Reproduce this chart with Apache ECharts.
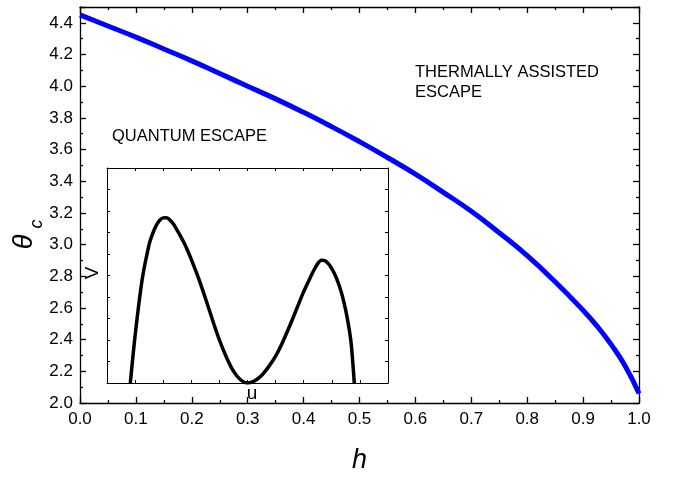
<!DOCTYPE html>
<html>
<head>
<meta charset="utf-8">
<script src="https://cdn.jsdelivr.net/npm/echarts@6/dist/echarts.min.js"></script>
<style>
  html, body { margin: 0; padding: 0; background: #fff; }
  #chart { width: 694px; height: 479px; }
</style>
</head>
<body>
<div id="chart"></div>
<script>
// main curve: critical theta vs h
var hValues = [0, 0.05, 0.1, 0.15, 0.2, 0.25, 0.3, 0.35, 0.4, 0.45, 0.5, 0.55, 0.6, 0.65, 0.7, 0.75, 0.8, 0.85, 0.9, 0.925, 0.95, 0.975, 1.0];
var thetaValues = [4.45, 4.38, 4.31, 4.235, 4.16, 4.08, 4.0, 3.92, 3.835, 3.745, 3.65, 3.55, 3.445, 3.33, 3.21, 3.075, 2.93, 2.765, 2.585, 2.485, 2.37, 2.235, 2.06];

// inset: potential V(u), arbitrary units
var uValues = [0.83, 1.0, 1.25, 1.5, 1.625, 1.75, 1.875, 2.0, 2.125, 2.25, 2.375, 2.5, 2.625, 2.75, 2.875, 3.0, 3.25, 3.5, 3.75, 4.0, 4.25, 4.5, 4.75, 5.0, 5.25, 5.5, 5.75, 6.0, 6.25, 6.5, 6.75, 7.0, 7.25, 7.375, 7.5, 7.625, 7.75, 7.875, 8.0, 8.125, 8.25, 8.375, 8.5, 8.625, 8.7, 8.8];
var vValues = [0, 2.2, 4.8, 6.45, 6.95, 7.32, 7.57, 7.68, 7.69, 7.57, 7.37, 7.1, 6.81, 6.5, 6.14, 5.75, 4.9, 3.95, 2.95, 2.0, 1.2, 0.55, 0.15, 0, 0.1, 0.35, 0.75, 1.25, 1.9, 2.65, 3.45, 4.25, 4.95, 5.28, 5.55, 5.71, 5.69, 5.55, 5.32, 5.0, 4.58, 4.05, 3.35, 2.45, 1.7, 0];

var font = 'Liberation Sans, Arial, sans-serif';

function pairs(xs, ys) {
  var out = [];
  for (var i = 0; i < xs.length; i++) out.push([xs[i], ys[i]]);
  return out;
}

var chart = echarts.init(document.getElementById('chart'));

var lineStyle = { color: '#000', width: 1.3 };
var thin = { color: '#000', width: 1 };

function mainAxis(extra) {
  var ax = {
    type: 'value', gridIndex: 0,
    axisLine: { onZero: false, lineStyle: lineStyle },
    axisTick: { inside: true, length: 6, lineStyle: lineStyle },
    minorTick: { show: true, splitNumber: 2, length: 3, lineStyle: lineStyle },
    splitLine: { show: false },
    axisLabel: { show: false }
  };
  return Object.assign(ax, extra);
}

function insetAxis(pos) {
  return {
    type: 'value', gridIndex: 1, min: 0, max: 10, interval: 1, position: pos,
    axisLine: { onZero: false, lineStyle: thin },
    axisTick: { inside: true, length: 3, lineStyle: thin },
    splitLine: { show: false }, axisLabel: { show: false }, z: 6
  };
}

var option = {
  animation: false,
  backgroundColor: '#fff',
  grid: [
    { left: 80, top: 7, right: 55, bottom: 69 },
    { left: 107, top: 168, width: 281, height: 215, show: true, backgroundColor: '#fff', borderWidth: 0, z: 5 }
  ],
  xAxis: [
    mainAxis({
      min: 0, max: 1, interval: 0.1, position: 'bottom',
      axisLabel: { show: true, color: '#000', fontSize: 17, fontFamily: font, margin: 8,
        formatter: function (v) { return v.toFixed(1); } },
      name: 'h', nameLocation: 'middle', nameGap: 44,
      nameTextStyle: { fontSize: 27, fontStyle: 'italic', fontFamily: font, color: '#000' }
    }),
    mainAxis({ min: 0, max: 1, interval: 0.1, position: 'top' }),
    insetAxis('bottom'),
    insetAxis('top')
  ],
  yAxis: [
    mainAxis({
      min: 2.0, max: 4.5, interval: 0.2, position: 'left',
      axisLabel: { show: true, color: '#000', fontSize: 17, fontFamily: font, margin: 7, showMaxLabel: false,
        formatter: function (v) { return v.toFixed(1); } }
    }),
    mainAxis({ min: 2.0, max: 4.5, interval: 0.2, position: 'right' }),
    insetAxis('left'),
    insetAxis('right')
  ],
  series: [
    {
      type: 'line', xAxisIndex: 0, yAxisIndex: 0, smooth: true, symbol: 'none',
      data: pairs(hValues, thetaValues),
      lineStyle: { color: '#0000ff', width: 5 }, z: 2
    },
    {
      type: 'line', xAxisIndex: 2, yAxisIndex: 2, smooth: 0.3, symbol: 'none',
      data: pairs(uValues, vValues),
      lineStyle: { color: '#000', width: 3.5 }, z: 7
    }
  ],
  graphic: [
    { type: 'text', left: 415, top: 62, z: 10,
      style: { text: 'THERMALLY ASSISTED\nESCAPE', fontSize: 16.5, lineHeight: 20, fontFamily: font, fill: '#000' } },
    { type: 'text', left: 112, top: 128, z: 10,
      style: { text: 'QUANTUM ESCAPE', fontSize: 16.5, fontFamily: font, fill: '#000' } },
    { type: 'text', x: 93, y: 273, rotation: Math.PI / 2, z: 10,
      style: { text: 'V', fontSize: 19, fontFamily: font, fill: '#000', align: 'center', verticalAlign: 'middle' } },
    { type: 'text', x: 252, y: 394, z: 10,
      style: { text: 'u', fontSize: 19, fontFamily: font, fill: '#000', align: 'center', verticalAlign: 'middle' } },
    { type: 'text', x: 24, y: 242, rotation: Math.PI / 2, z: 10,
      style: { text: 'θ', fontSize: 27, fontStyle: 'italic', fontFamily: font, fill: '#000', align: 'center', verticalAlign: 'middle' } },
    { type: 'text', x: 37, y: 224, rotation: Math.PI / 2, z: 10,
      style: { text: 'c', fontSize: 18, fontStyle: 'italic', fontFamily: font, fill: '#000', align: 'center', verticalAlign: 'middle' } }
  ]
};

chart.setOption(option);
</script>
</body>
</html>
